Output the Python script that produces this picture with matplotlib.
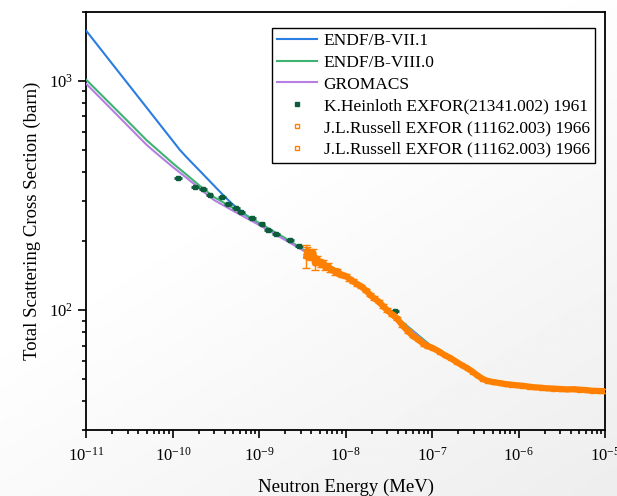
import numpy as np
import matplotlib.pyplot as plt
from matplotlib.ticker import LogLocator, NullFormatter, LogFormatterMathtext

plt.rcParams['font.family'] = ['Liberation Serif', 'DejaVu Serif']
plt.rcParams['mathtext.fontset'] = 'custom'
plt.rcParams['mathtext.rm'] = 'Liberation Serif'
plt.rcParams['mathtext.it'] = 'Liberation Serif:italic'

# evaluated cross sections (MeV, barn)
e_vii1 = [1e-11, 2e-11, 3e-11, 5e-11, 7e-11, 1e-10, 1.2e-10, 1.4e-10, 1.6e-10, 2e-10, 3e-10,
          4e-10, 5e-10, 6e-10, 7e-10, 1e-9, 2e-9, 3e-9, 5e-9, 1e-8, 2e-8, 4e-8, 1e-7, 2e-7,
          4e-7, 1e-6, 3e-6, 1e-5]
s_vii1 = [1652, 1184, 975, 763, 649, 547, 501, 470, 446, 409, 349,
          312, 288, 272, 260, 238, 204, 186, 165, 142, 117, 92, 69, 59,
          50, 47, 45.3, 44.3]

e_viii0 = [1e-11, 2e-11, 3e-11, 5e-11, 7e-11, 1e-10, 1.5e-10, 2e-10, 3e-10, 5e-10,
           1e-9, 2e-9, 3e-9, 5e-9, 1e-8, 2e-8, 4e-8, 1e-7, 2e-7, 4e-7, 1e-6, 3e-6, 1e-5]
s_viii0 = [1010, 778, 668, 550, 492, 437, 385, 351, 311, 279,
           240, 206, 187, 165, 142, 117, 92, 69, 59, 50, 47, 45.3, 44.3]

e_gmx = [1e-11, 2e-11, 3e-11, 5e-11, 7e-11, 1e-10, 1.5e-10, 2e-10, 3e-10, 5e-10,
         1e-9, 2e-9, 3e-9, 5e-9, 1e-8, 2e-8, 4e-8, 1e-7, 2e-7, 4e-7, 1e-6, 3e-6, 1e-5]
s_gmx = [970, 745, 638, 525, 471, 421, 373, 341, 302, 271,
         235, 202, 185, 164, 141, 116, 91, 68.5, 58.5, 49.8, 46.9, 45.2, 44.2]

# K.Heinloth EXFOR 21341.002
e_hein = [1.15e-10, 1.80e-10, 2.23e-10, 2.68e-10, 3.70e-10, 4.35e-10, 5.37e-10, 6.14e-10,
          8.23e-10, 1.07e-9, 1.26e-9, 1.56e-9, 2.26e-9, 2.87e-9, 3.72e-8]
s_hein = [377, 344, 338, 318, 311, 290, 279, 268, 252, 237, 223, 215, 202, 190, 99]

# J.L.Russell EXFOR 11162.003
e_rus1 = [3.5e-9, 3.6e-9, 3.8e-9, 4.0e-9, 4.2e-9, 4.4e-9, 4.6e-9, 4.9e-9, 5.2e-9, 5.5e-9,
          5.8e-9, 6.2e-9, 6.6e-9, 7.0e-9, 7.5e-9, 8.0e-9, 8.5e-9, 9.0e-9, 1.0e-8, 1.1e-8,
          1.2e-8, 1.35e-8, 1.5e-8, 1.7e-8, 1.9e-8, 2.1e-8, 2.4e-8, 2.7e-8, 3.0e-8, 3.4e-8,
          3.9e-8, 4.5e-8, 5.2e-8, 6.0e-8, 7.0e-8, 8.0e-8, 9.0e-8]
s_rus1 = [172, 182, 176, 170, 178, 160, 168, 163, 158, 161,
          154, 156, 151, 150, 147, 148, 144, 142, 141, 137,
          134, 130, 127, 122, 117, 113, 109, 104, 100, 96,
          92, 86, 81, 77, 74, 71, 69.5]
d_rus1 = [20, 6, 8, 5, 6, 10, 5, 5, 4, 5,
          4, 4, 4, 3, 4, 3, 3, 3, 3, 3,
          3, 2, 2, 2, 2, 2, 2, 2, 2, 1.5,
          1.5, 1.5, 1.5, 1, 1, 1, 1]

e_rus2 = [1.0e-7, 1.2e-7, 1.4e-7, 1.6e-7, 1.9e-7, 2.2e-7, 2.5e-7, 2.9e-7, 3.3e-7, 3.8e-7,
          4.3e-7, 5.0e-7, 6.0e-7, 7.0e-7, 8.2e-7, 9.5e-7, 1.1e-6, 1.3e-6, 1.5e-6, 1.8e-6,
          2.1e-6, 2.5e-6, 3.0e-6, 3.6e-6, 4.3e-6, 5.0e-6, 6.0e-6, 7.0e-6, 8.5e-6, 1.0e-5]
s_rus2 = [68.5, 66, 63.5, 62, 59.5, 57.5, 56, 54, 52, 50.2,
          49.2, 48.6, 48.1, 47.6, 47.3, 47.0, 46.8, 46.4, 46.1, 45.9,
          45.6, 45.5, 45.3, 45.1, 45.2, 45.0, 44.8, 44.5, 44.4, 44.3]

x_ticks = [1e-11, 1e-10, 1e-9, 1e-8, 1e-7, 1e-6, 1e-5]
y_ticks = [1e2, 1e3]

fig = plt.figure(figsize=(6.17, 4.96), dpi=100)

# faint grey backdrop like the slide it was cut from
bg = fig.add_axes([0, 0, 1, 1], zorder=-10)
gx, gy = np.meshgrid(np.linspace(0, 1, 300), np.linspace(0, 1, 240))
shade = 1 - 0.07 * np.clip(gx * 0.7 + gy * 0.9 - 0.6, 0, 1)
bg.imshow(shade, cmap='gray', vmin=0, vmax=1, aspect='auto', extent=[0, 1, 0, 1],
          origin='upper')
bg.axis('off')

ax = fig.add_axes([0.140, 0.133, 0.841, 0.843])
ax.set_facecolor('none')

ax.plot(e_vii1, s_vii1, color='#2a7de1', lw=1.5, label='ENDF/B-VII.1', zorder=3)
ax.plot(e_viii0, s_viii0, color='#3cb371', lw=1.5, label='ENDF/B-VIII.0', zorder=3)
ax.plot(e_gmx, s_gmx, color='#b57ee0', lw=1.5, label='GROMACS', zorder=3)

green = '#0b5d3b'
e_h = np.array(e_hein)
ax.errorbar(e_hein, s_hein, xerr=0.1 * e_h, fmt='none', ecolor=green,
            elinewidth=2, capsize=0, zorder=4)
ax.plot(e_hein, s_hein, 's', ms=3.5, color=green, ls='none',
        label='K.Heinloth EXFOR(21341.002) 1961', zorder=4)

orange = '#ff8000'
ax.plot(e_rus1 + e_rus2, s_rus1 + s_rus2, color=orange, lw=4.5, zorder=4)
ax.errorbar(e_rus1, s_rus1, yerr=d_rus1, fmt='none', ecolor=orange,
            elinewidth=1, capsize=3, zorder=5)
ax.plot(e_rus1, s_rus1, 's', ms=3.5, mfc='none', mec=orange, mew=1, ls='none',
        label='J.L.Russell EXFOR (11162.003) 1966', zorder=5)
ax.plot(e_rus2, s_rus2, 's', ms=3.5, mfc='none', mec=orange, mew=1, ls='none',
        label='J.L.Russell EXFOR (11162.003) 1966', zorder=5)

ax.set_xscale('log')
ax.set_yscale('log')
ax.set_xlim(1e-11, 1e-5)
ax.set_ylim(30, 2000)

ax.set_xticks(x_ticks)
ax.set_yticks(y_ticks)
ax.xaxis.set_minor_locator(LogLocator(base=10, subs=np.arange(2, 10), numticks=20))
ax.yaxis.set_minor_locator(LogLocator(base=10, subs=np.arange(2, 10), numticks=20))
ax.xaxis.set_major_formatter(LogFormatterMathtext())
ax.xaxis.set_minor_formatter(NullFormatter())
ax.yaxis.set_major_formatter(LogFormatterMathtext())
ax.yaxis.set_minor_formatter(NullFormatter())

ax.tick_params(which='both', direction='out', top=False, right=False,
               labelsize=12, width=1.2, colors='black')
ax.tick_params(which='major', length=6)
ax.tick_params(which='minor', length=3)
ax.tick_params(axis='x', pad=6)
for sp in ax.spines.values():
    sp.set_linewidth(1.3)

ax.set_xlabel('Neutron Energy (MeV)', fontsize=13.5, labelpad=10)
ax.set_ylabel('Total Scattering Cross Section (barn)', fontsize=13.5, labelpad=6)

leg = ax.legend(loc='upper right', bbox_to_anchor=(0.98, 0.962), borderaxespad=0,
                fontsize=12.5, frameon=True, fancybox=False, edgecolor='black',
                framealpha=1, handlelength=2.3, handletextpad=0.4, labelspacing=0.32,
                borderpad=0.3)
leg.get_frame().set_linewidth(1.0)

fig.savefig('out.png', dpi=100)
